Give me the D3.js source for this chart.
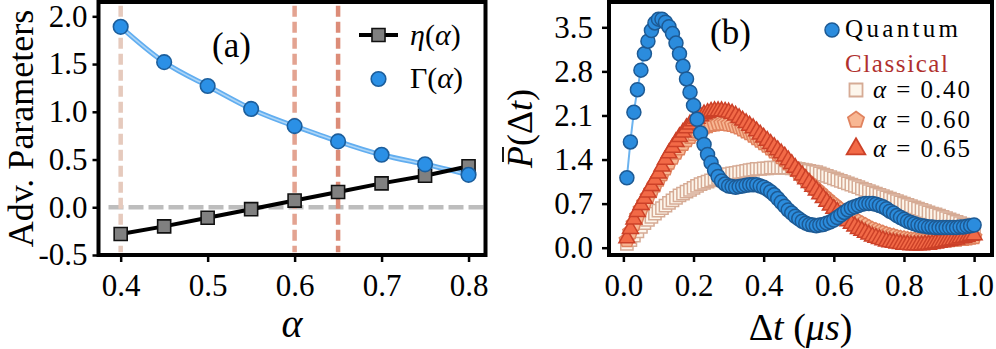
<!DOCTYPE html>
<html>
<head>
<meta charset="utf-8">
<script src="https://cdn.jsdelivr.net/npm/d3@7"></script>
<style>
  body { margin: 0; background: #fff; }
  text { font-family: "Liberation Serif", "Times New Roman", serif; fill: #000; }
</style>
</head>
<body>
<div id="chart"></div>
<script>

// ---- panel (a) data ----
var alphaVals = [0.40, 0.45, 0.50, 0.55, 0.60, 0.65, 0.70, 0.75, 0.80];
var etaVals   = [-0.28, -0.20, -0.11, -0.02, 0.07, 0.16, 0.25, 0.33, 0.43];
var gammaVals = [1.89, 1.52, 1.27, 1.03, 0.85, 0.69, 0.55, 0.45, 0.34];
var markedAlphas = [0.40, 0.60, 0.65];
var aXTicks = [0.4, 0.5, 0.6, 0.7, 0.8];
var aYTicks = [-0.5, 0.0, 0.5, 1.0, 1.5, 2.0];

// ---- panel (b) data ----
var dtVals = [0.01,0.02,0.03,0.04,0.05,0.06,0.07,0.08,0.09,0.10,
  0.11,0.12,0.13,0.14,0.15,0.16,0.17,0.18,0.19,0.20,
  0.21,0.22,0.23,0.24,0.25,0.26,0.27,0.28,0.29,0.30,
  0.31,0.32,0.33,0.34,0.35,0.36,0.37,0.38,0.39,0.40,
  0.41,0.42,0.43,0.44,0.45,0.46,0.47,0.48,0.49,0.50,
  0.51,0.52,0.53,0.54,0.55,0.56,0.57,0.58,0.59,0.60,
  0.61,0.62,0.63,0.64,0.65,0.66,0.67,0.68,0.69,0.70,
  0.71,0.72,0.73,0.74,0.75,0.76,0.77,0.78,0.79,0.80,
  0.81,0.82,0.83,0.84,0.85,0.86,0.87,0.88,0.89,0.90,
  0.91,0.92,0.93,0.94,0.95,0.96,0.97,0.98,0.99,1.00];

var quantumVals = [1.11,1.68,2.15,2.51,2.82,3.08,3.28,3.45,3.57,3.63,
  3.63,3.58,3.51,3.40,3.25,3.08,2.88,2.68,2.47,2.26,
  2.04,1.82,1.64,1.48,1.35,1.23,1.13,1.06,1.01,0.98,
  0.97,0.96,0.97,0.98,0.99,1.00,1.00,1.00,0.98,0.96,
  0.93,0.89,0.84,0.78,0.72,0.66,0.60,0.55,0.50,0.46,
  0.42,0.39,0.37,0.36,0.35,0.36,0.37,0.39,0.41,0.44,
  0.48,0.52,0.56,0.60,0.63,0.65,0.67,0.69,0.70,0.70,
  0.70,0.69,0.67,0.65,0.62,0.58,0.55,0.51,0.48,0.45,
  0.42,0.40,0.38,0.36,0.35,0.34,0.33,0.33,0.32,0.32,
  0.32,0.32,0.32,0.32,0.32,0.33,0.33,0.34,0.35,0.36];

var classical040 = [0.06,0.12,0.19,0.26,0.33,0.39,0.44,0.49,0.54,0.59,
  0.63,0.67,0.71,0.75,0.79,0.83,0.86,0.89,0.92,0.95,
  0.98,1.01,1.03,1.05,1.07,1.09,1.11,1.13,1.15,1.17,
  1.18,1.19,1.20,1.21,1.22,1.23,1.24,1.25,1.25,1.26,
  1.26,1.27,1.27,1.27,1.27,1.27,1.27,1.26,1.26,1.25,
  1.24,1.23,1.22,1.21,1.20,1.18,1.16,1.14,1.12,1.10,
  1.08,1.06,1.04,1.02,1.00,0.98,0.96,0.94,0.92,0.90,
  0.88,0.86,0.84,0.82,0.80,0.78,0.76,0.74,0.72,0.70,
  0.68,0.66,0.64,0.62,0.60,0.58,0.56,0.54,0.53,0.51,
  0.49,0.47,0.45,0.43,0.41,0.39,0.37,0.35,0.33,0.31];

var classical060 = [0.12,0.25,0.38,0.50,0.61,0.71,0.81,0.90,0.99,1.08,
  1.17,1.26,1.35,1.43,1.51,1.58,1.65,1.71,1.76,1.81,
  1.85,1.88,1.91,1.93,1.95,1.96,1.97,1.97,1.97,1.96,
  1.95,1.93,1.91,1.88,1.85,1.82,1.78,1.74,1.70,1.66,
  1.62,1.58,1.53,1.49,1.44,1.39,1.34,1.29,1.24,1.19,
  1.13,1.08,1.03,0.98,0.93,0.88,0.83,0.78,0.73,0.69,
  0.64,0.60,0.56,0.52,0.48,0.44,0.41,0.38,0.35,0.32,
  0.29,0.27,0.25,0.23,0.21,0.19,0.18,0.16,0.15,0.14,
  0.13,0.12,0.12,0.11,0.11,0.11,0.11,0.11,0.11,0.11,
  0.12,0.12,0.12,0.13,0.13,0.14,0.14,0.15,0.16,0.17];

var classical065 = [0.15,0.30,0.45,0.57,0.68,0.78,0.88,0.98,1.08,1.18,
  1.29,1.40,1.50,1.59,1.68,1.76,1.83,1.90,1.96,2.01,
  2.05,2.09,2.12,2.14,2.16,2.17,2.17,2.17,2.16,2.15,
  2.13,2.10,2.06,2.02,1.98,1.94,1.90,1.85,1.80,1.75,
  1.70,1.65,1.60,1.55,1.50,1.45,1.39,1.33,1.27,1.21,
  1.15,1.09,1.03,0.97,0.91,0.85,0.79,0.73,0.67,0.62,
  0.57,0.52,0.47,0.42,0.38,0.34,0.30,0.27,0.24,0.21,
  0.18,0.16,0.14,0.12,0.10,0.09,0.08,0.07,0.06,0.05,
  0.05,0.04,0.04,0.04,0.04,0.05,0.05,0.06,0.07,0.08,
  0.09,0.10,0.11,0.12,0.13,0.15,0.16,0.17,0.19,0.20];

var bXTicks = [0.0, 0.2, 0.4, 0.6, 0.8, 1.0];
var bYTicks = [0.0, 0.7, 1.4, 2.1, 2.8, 3.5];
var classicalLabels = ["0.40", "0.60", "0.65"];


var svg = d3.select("#chart")
  .append("svg")
  .attr("width", 996)
  .attr("height", 349);

// pentagon symbol (d3 has none)
var symbolPentagon = {
  draw: function(context, size) {
    var r = Math.sqrt(size / 2.378);
    for (var i = 0; i < 5; i++) {
      var a = -Math.PI / 2 + i * 2 * Math.PI / 5;
      if (i === 0) context.moveTo(r * Math.cos(a), r * Math.sin(a));
      else context.lineTo(r * Math.cos(a), r * Math.sin(a));
    }
    context.closePath();
  }
};

var fmt = function(d) { return d.toFixed(1); };

function styleAxis(g, fontSize) {
  g.select(".domain").remove();
  g.selectAll(".tick line").attr("stroke", "#000").attr("stroke-width", 2.5);
  g.selectAll(".tick text")
    .attr("fill", "#000")
    .style("font-family", "'Liberation Serif', serif")
    .style("font-size", fontSize + "px");
}

function mathLabel(sel, parts) {
  parts.forEach(function(p) {
    sel.append("tspan").style("font-style", p[1] ? "italic" : "normal").text(p[0]);
  });
}

// =================== panel (a) ===================
var aL = 98.5, aR = 485.5, aT = 2, aB = 255;

var xA = d3.scaleLinear().domain([0.3745, 0.8195]).range([aL, aR]);
var yA = d3.scaleLinear().domain([-0.5, 2.15]).range([aB, aT]);

var gA = svg.append("g");

// reference lines
gA.append("line")
  .attr("x1", xA(0.386)).attr("x2", aR)
  .attr("y1", yA(0)).attr("y2", yA(0))
  .attr("stroke", "#bdbdbd").attr("stroke-width", 4.5)
  .attr("stroke-dasharray", "15,5");

var vColors = ["#e6cabd", "#e3a391", "#dc8c78"];
gA.selectAll(".vline")
  .data(markedAlphas)
  .enter()
  .append("line")
  .attr("x1", d => xA(d)).attr("x2", d => xA(d))
  .attr("y1", yA(2.11)).attr("y2", yA(-0.47))
  .attr("stroke", (d, i) => vColors[i])
  .attr("stroke-width", 4.5)
  .attr("stroke-dasharray", "11,5");

// Gamma smooth curve
var gammaLine = d3.line()
  .x((d, i) => xA(alphaVals[i]))
  .y(d => yA(d))
  .curve(d3.curveNatural);

gA.append("path").datum(gammaVals)
  .attr("d", gammaLine)
  .attr("fill", "none").attr("stroke", "#62aef0").attr("stroke-width", 5);
gA.append("path").datum(gammaVals)
  .attr("d", gammaLine)
  .attr("fill", "none").attr("stroke", "#aed6f7").attr("stroke-width", 1.6);

// eta line + squares
var etaLine = d3.line()
  .x((d, i) => xA(alphaVals[i]))
  .y(d => yA(d));

gA.append("path").datum(etaVals)
  .attr("d", etaLine)
  .attr("fill", "none").attr("stroke", "#000").attr("stroke-width", 4);

gA.selectAll(".etaPt")
  .data(etaVals)
  .enter()
  .append("path")
  .attr("d", d3.symbol().type(d3.symbolSquare).size(170))
  .attr("transform", (d, i) => `translate(${xA(alphaVals[i])}, ${yA(d)})`)
  .attr("fill", "#808080").attr("stroke", "#111").attr("stroke-width", 1.6);

gA.selectAll(".gammaPt")
  .data(gammaVals)
  .enter()
  .append("circle")
  .attr("cx", (d, i) => xA(alphaVals[i]))
  .attr("cy", d => yA(d))
  .attr("r", 7.3)
  .attr("fill", "#2b90e6").attr("stroke", "#1c5e9c").attr("stroke-width", 1.6);

// axes
var aXAxis = gA.append("g")
  .attr("transform", `translate(0, ${aB})`)
  .call(d3.axisBottom(xA).tickValues(aXTicks).tickFormat(fmt).tickSize(7).tickPadding(12));
styleAxis(aXAxis, 31);

var aYAxis = gA.append("g")
  .attr("transform", `translate(${aL}, 0)`)
  .call(d3.axisLeft(yA).tickValues(aYTicks).tickFormat(fmt).tickSize(6).tickPadding(5));
styleAxis(aYAxis, 31);

gA.append("rect")
  .attr("x", aL).attr("y", aT)
  .attr("width", aR - aL).attr("height", aB - aT)
  .attr("fill", "none").attr("stroke", "#000").attr("stroke-width", 4);

// labels
gA.append("text")
  .attr("transform", `translate(33, ${(aT + aB) / 2}) rotate(-90)`)
  .style("text-anchor", "middle")
  .style("font-size", "36px")
  .text("Adv. Parameters");

gA.append("text")
  .attr("x", (aL + aR) / 2).attr("y", 337)
  .style("text-anchor", "middle")
  .style("font-size", "40px").style("font-style", "italic")
  .text("α");

gA.append("text")
  .attr("x", 212).attr("y", 57)
  .style("font-size", "35px")
  .text("(a)");

// legend (a)
gA.append("line")
  .attr("x1", 359).attr("x2", 398).attr("y1", 35).attr("y2", 35)
  .attr("stroke", "#000").attr("stroke-width", 4);
gA.append("path")
  .attr("d", d3.symbol().type(d3.symbolSquare).size(170))
  .attr("transform", "translate(378.5, 35)")
  .attr("fill", "#808080").attr("stroke", "#111").attr("stroke-width", 1.6);
gA.append("circle")
  .attr("cx", 378.5).attr("cy", 79).attr("r", 7.3)
  .attr("fill", "#2b90e6").attr("stroke", "#1c5e9c").attr("stroke-width", 1.6);

mathLabel(gA.append("text").attr("x", 410).attr("y", 45).style("font-size", "30px"),
  [["η", true], ["(", false], ["α", true], [")", false]]);
mathLabel(gA.append("text").attr("x", 410).attr("y", 88).style("font-size", "30px"),
  [["Γ", false], ["(", false], ["α", true], [")", false]]);


// =================== panel (b) ===================
var bL = 609, bR = 992, bT = 2, bB = 255;

var xB = d3.scaleLinear().domain([-0.041, 1.051]).range([bL, bR]);
var yB = d3.scaleLinear().domain([-0.116, 3.902]).range([bB, bT]);

var gB = svg.append("g");

var classicalSets = [
  { vals: classical040, type: d3.symbolSquare, size: 150, fill: "#fdf6ec", stroke: "#d6ab95" },
  { vals: classical060, type: symbolPentagon, size: 150, fill: "#f8b793", stroke: "#e0835f" },
  { vals: classical065, type: d3.symbolTriangle, size: 110, fill: "#f26a47", stroke: "#cc4128" }
];

classicalSets.forEach(function(s) {
  gB.append("g").selectAll("path")
    .data(s.vals)
    .enter()
    .append("path")
    .attr("d", d3.symbol().type(s.type).size(s.size))
    .attr("transform", (d, i) => `translate(${xB(dtVals[i])}, ${yB(d)})`)
    .attr("fill", s.fill).attr("stroke", s.stroke).attr("stroke-width", 1.5);
});

// quantum line + points
gB.append("path").datum(quantumVals)
  .attr("d", d3.line().x((d, i) => xB(dtVals[i])).y(d => yB(d)).curve(d3.curveMonotoneX))
  .attr("fill", "none").attr("stroke", "#6cb3ef").attr("stroke-width", 2);

gB.append("g").selectAll("circle")
  .data(quantumVals)
  .enter()
  .append("circle")
  .attr("cx", (d, i) => xB(dtVals[i]))
  .attr("cy", d => yB(d))
  .attr("r", 7)
  .attr("fill", "#2b8cdd").attr("stroke", "#1d5a94").attr("stroke-width", 1.5);

// axes
var bXAxis = gB.append("g")
  .attr("transform", `translate(0, ${bB})`)
  .call(d3.axisBottom(xB).tickValues(bXTicks).tickFormat(fmt).tickSize(7).tickPadding(12));
styleAxis(bXAxis, 31);

var bYAxis = gB.append("g")
  .attr("transform", `translate(${bL}, 0)`)
  .call(d3.axisLeft(yB).tickValues(bYTicks).tickFormat(fmt).tickSize(7).tickPadding(9));
styleAxis(bYAxis, 31);

gB.append("rect")
  .attr("x", bL).attr("y", bT)
  .attr("width", bR - bL).attr("height", bB - bT)
  .attr("fill", "none").attr("stroke", "#000").attr("stroke-width", 4);

// y label with bar over P
var yLabB = gB.append("g")
  .attr("transform", `translate(532, ${(bT + bB) / 2}) rotate(-90)`);
var yLabText = yLabB.append("text")
  .style("text-anchor", "middle")
  .style("font-size", "36px");
mathLabel(yLabText, [["P", true], ["(", false], ["Δ", false], ["t", true], [")", false]]);
var pBox = yLabText.node().getExtentOfChar(0);
yLabB.append("line")
  .attr("x1", pBox.x + 6).attr("x2", pBox.x + pBox.width - 1)
  .attr("y1", pBox.y + 3).attr("y2", pBox.y + 3)
  .attr("stroke", "#000").attr("stroke-width", 1.8);

var xLabB = gB.append("text")
  .attr("x", (bL + bR) / 2).attr("y", 340)
  .style("text-anchor", "middle")
  .style("font-size", "38px");
mathLabel(xLabB, [["Δ", false], ["t", true], [" (", false], ["μs", true], [")", false]]);

gB.append("text")
  .attr("x", 710).attr("y", 44)
  .style("font-size", "35px")
  .text("(b)");

// legend (b)
gB.append("circle")
  .attr("cx", 832).attr("cy", 30).attr("r", 7)
  .attr("fill", "#2b8cdd").attr("stroke", "#1d5a94").attr("stroke-width", 1.5);
gB.append("text")
  .attr("x", 845).attr("y", 37)
  .attr("textLength", 113)
  .style("font-size", "25px")
  .text("Quantum");
gB.append("text")
  .attr("x", 845).attr("y", 72)
  .attr("textLength", 103)
  .style("font-size", "25px")
  .style("fill", "#b0302e")
  .text("Classical");

var legY = [90, 120, 149];
classicalSets.forEach(function(s, i) {
  gB.append("path")
    .attr("d", d3.symbol().type(s.type).size(s.type === d3.symbolTriangle ? 150 : 170))
    .attr("transform", `translate(856, ${legY[i]})`)
    .attr("fill", s.fill).attr("stroke", s.stroke).attr("stroke-width", 1.8);
  var t = gB.append("text")
    .attr("x", 873).attr("y", legY[i] + 8)
    .attr("textLength", 97)
    .style("font-size", "25px");
  mathLabel(t, [["α", true], [" = " + classicalLabels[i], false]]);
});

</script>
</body>
</html>
